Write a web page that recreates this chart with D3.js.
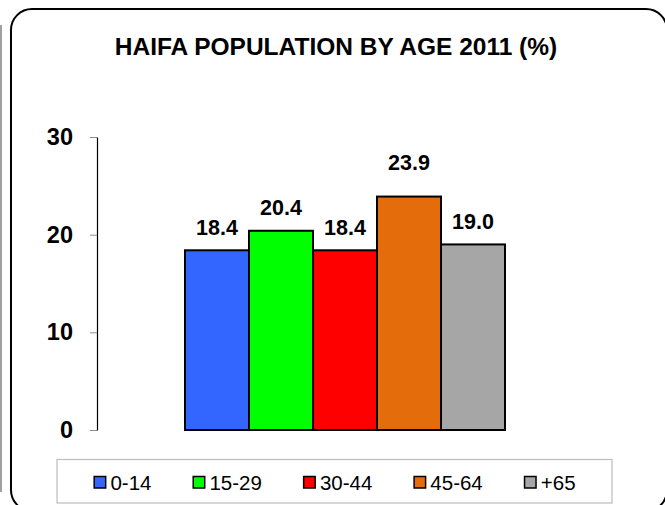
<!DOCTYPE html>
<html>
<head>
<meta charset="utf-8">
<script src="https://cdn.jsdelivr.net/npm/d3@7"></script>
<style>
  body { margin: 0; background: #fff; }
  svg { display: block; }
</style>
</head>
<body>
<script>
var ageGroups = ["0-14", "15-29", "30-44", "45-64", "+65"];
var shares = [18.4, 20.4, 18.4, 23.9, 19.0];
var yTicks = [0, 10, 20, 30];
var chartTitle = "HAIFA POPULATION BY AGE 2011 (%)";

buildIt();

function buildIt() {
    var w = 665;
    var h = 505;
    var font = "Arial, 'Liberation Sans', sans-serif";
    var colors = ["#3366FF", "#00FF00", "#FF0000", "#E46C0A", "#A6A6A6"];

    var svg = d3.select("body")
        .append("svg")
        .attr("width", w)
        .attr("height", h);

    // leftover edge of neighbouring frame
    svg.append("line")
        .attr("x1", 1).attr("x2", 1)
        .attr("y1", 25).attr("y2", 492)
        .attr("stroke", "#a0a0a0")
        .attr("stroke-width", 2);

    // rounded frame
    svg.append("rect")
        .attr("x", 11)
        .attr("y", 9)
        .attr("width", 656)
        .attr("height", 502)
        .attr("rx", 21)
        .attr("fill", "none")
        .attr("stroke", "#000")
        .attr("stroke-width", 2);

    svg.append("text")
        .attr("x", 336)
        .attr("y", 54.5)
        .attr("text-anchor", "middle")
        .attr("font-family", font)
        .attr("font-size", "24.5px")
        .attr("font-weight", "bold")
        .text(chartTitle);

    var xScale = d3.scaleBand()
        .domain(ageGroups)
        .range([97, 593])
        .paddingInner(0)
        .paddingOuter(1.375);

    var yScale = d3.scaleLinear()
        .domain([0, 30])
        .range([430, 137]);

    var yAxis = d3.axisLeft()
        .scale(yScale)
        .tickValues(yTicks)
        .tickSize(7)
        .tickSizeOuter(0)
        .tickPadding(17);

    var gy = svg.append("g")
        .attr("transform", "translate(97,0)")
        .call(yAxis);

    gy.select(".domain").attr("stroke", "#000").attr("stroke-width", 1.2);
    gy.selectAll(".tick line").attr("stroke", "#8c8c8c");
    gy.selectAll(".tick text")
        .attr("font-family", font)
        .attr("font-size", "23.5px")
        .attr("font-weight", "bold")
        .attr("fill", "#000");

    // bars
    svg.selectAll("rect.bar")
        .data(shares)
        .enter()
        .append("rect")
        .attr("class", "bar")
        .attr("x", function(d, i) { return xScale(ageGroups[i]); })
        .attr("y", function(d) { return yScale(d); })
        .attr("width", xScale.bandwidth())
        .attr("height", function(d) { return yScale(0) - yScale(d); })
        .attr("fill", function(d, i) { return colors[i]; })
        .attr("stroke", "#000")
        .attr("stroke-width", 2);

    // the 45-64 label sits a little higher in the original
    var nudge = { "45-64": 11 };

    svg.selectAll("text.val")
        .data(shares)
        .enter()
        .append("text")
        .attr("class", "val")
        .attr("text-anchor", "middle")
        .attr("x", function(d, i) { return xScale(ageGroups[i]) + xScale.bandwidth() / 2; })
        .attr("y", function(d, i) { return yScale(d) - 15.5 - (nudge[ageGroups[i]] || 0); })
        .attr("font-family", font)
        .attr("font-size", "21.5px")
        .attr("font-weight", "bold")
        .text(function(d) { return d.toFixed(1); });

    // legend
    svg.append("rect")
        .attr("x", 57)
        .attr("y", 459.5)
        .attr("width", 555)
        .attr("height", 43.5)
        .attr("fill", "#fff")
        .attr("stroke", "#bdbdbd")
        .attr("stroke-width", 1.2);

    var lg = svg.append("g");
    var cx = 0;
    ageGroups.forEach(function(name, i) {
        var item = lg.append("g").attr("transform", "translate(" + cx + ",0)");
        item.append("rect")
            .attr("x", 0.75)
            .attr("y", 476.5)
            .attr("width", 11.5)
            .attr("height", 11.5)
            .attr("fill", colors[i])
            .attr("stroke", "#000")
            .attr("stroke-width", 1.5);
        var t = item.append("text")
            .attr("x", 17)
            .attr("y", 489.5)
            .attr("font-family", font)
            .attr("font-size", "20.5px")
            .text(name);
        cx += 17 + t.node().getComputedTextLength() + 41;
    });
    var total = cx - 41;
    lg.attr("transform", "translate(" + (334.5 - total / 2) + ",0)");
}
</script>
</body>
</html>
